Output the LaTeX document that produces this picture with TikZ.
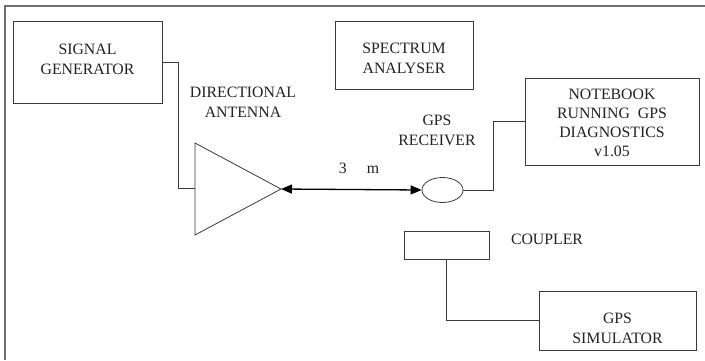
\documentclass[tikz,border=0pt]{standalone}
\usepackage{fontspec}
\setmainfont{Liberation Serif}
\usetikzlibrary{arrows.meta,shapes.geometric}
\definecolor{lnc}{HTML}{3A3A3A}
\definecolor{frc}{HTML}{707070}
\definecolor{txc}{HTML}{222222}
\tikzset{
  box/.style={draw=lnc, line width=0.8pt, inner sep=0pt, rectangle},
  txt/.style={text=txc, align=center, inner sep=0pt, font=\fontsize{15.8}{20}\selectfont},
  wire/.style={draw=lnc, line width=0.8pt},
  dbl/.style={draw=black, line width=1.3pt, {Triangle[length=11pt,width=9pt]}-{Triangle[length=11pt,width=9pt]}}
}
\begin{document}
\begin{tikzpicture}[x=1pt,y=-1pt]
\useasboundingbox (0,0) rectangle (705,360);
% open frame
\draw[frc, line width=1.5pt] (5,360) -- (5,6) -- (705,6);
% boxes
\node[box, minimum width=149pt, minimum height=82pt] (sg) at (87.5,62) {};
\node[txt] (sgt) at (87.5,59.5) {SIGNAL\\GENERATOR};
\node[box, minimum width=138pt, minimum height=68pt] (sa) at (404,55) {};
\node[txt] (sat) at (404,58.5) {SPECTRUM\\ANALYSER};
\node[box, minimum width=174pt, minimum height=87pt] (nb) at (612,121.5) {};
\node[txt, font=\fontsize{15.8}{19}\selectfont] (nbt) at (612,122.5) {NOTEBOOK\\RUNNING\ \ GPS\\DIAGNOSTICS\\v1.05};
\node[box, minimum width=157pt, minimum height=59pt] (gs) at (617.5,320.5) {};
\node[txt] (gst) at (617.5,328) {GPS\\SIMULATOR};
\node[box, minimum width=85pt, minimum height=28pt] (cp) at (446.5,245) {};
\node[txt] (cpt) at (547,239) {COUPLER};
\node[draw=lnc, line width=0.8pt, ellipse, inner sep=0pt, minimum width=41pt, minimum height=25pt] (rx) at (442.5,190) {};
\node[txt] (rxt) at (437,130.5) {GPS\\RECEIVER};
% antenna triangle
\coordinate (ta) at (195,143);
\coordinate (tb) at (195,235);
\coordinate (tc) at (281,189);
\coordinate (tin) at (195,188);
\draw[wire, line join=miter] (ta) -- (tc) -- (tb) -- cycle;
\node[txt] (ant) at (243,102.5) {DIRECTIONAL\\ANTENNA};
% connectors
\draw[wire] (sg.east |- 0,62) -- (178,62) |- (tin);
\draw[dbl] (tc) -- (rx.west);
\node[txt] (dist) at (359,168) {3\hspace{20pt}m};
\draw[wire] (rx.east) -- (493,190) |- (nb.west);
\draw[wire] (cp.south) |- (gs.west);
\end{tikzpicture}
\end{document}
